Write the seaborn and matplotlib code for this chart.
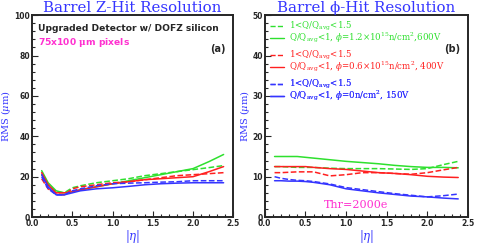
""" Barrel hit resolution vs |eta|, two panels. """
import numpy as np
import pandas as pd
import seaborn as sns
import matplotlib.pyplot as plt
from matplotlib.lines import Line2D
from matplotlib.ticker import MultipleLocator

sns.set_style("ticks")
plt.rcParams['font.family'] = ['DejaVu Sans']
plt.rcParams['mathtext.fontset'] = 'dejavuserif'

# |eta| sample points
eta = [0.12, 0.2, 0.3, 0.4, 0.5, 0.6, 0.8, 1.0, 1.2, 1.4, 1.6, 1.8, 2.0, 2.2, 2.38]

# panel (a): z resolution (um)
z_green_solid = [23, 17, 13, 12, 12.5, 13.5, 15, 16.5, 18, 19.5, 21, 22.5, 24, 27.5, 31]
z_green_dash = [21, 16, 12.5, 12, 14.5, 15.5, 17, 18, 19, 20.5, 21.5, 22.5, 23.5, 24.5, 25.5]
z_red_solid = [22, 16, 12, 12, 12.5, 13.5, 15, 16.5, 17.5, 18.5, 19, 19.5, 20, 22.5, 25]
z_red_dash = [19, 14, 11.5, 11, 14, 15, 16, 17, 17.5, 18.5, 19.5, 20.5, 21, 21.5, 22]
z_blue_solid = [21, 15, 11, 11, 12, 13, 14, 14.5, 15.2, 16, 16.5, 16.8, 17, 17, 17]
z_blue_dash = [20, 14, 11, 11, 13, 14, 15.5, 16.5, 16.8, 17, 17.3, 17.5, 18, 18, 18]

# panel (b): phi resolution (um)
p_green_solid = [15, 15, 15, 15, 14.8, 14.6, 14.2, 13.8, 13.5, 13.2, 12.8, 12.5, 12.3, 12.3, 12.2]
p_green_dash = [12.5, 12.5, 12.4, 12.3, 12.3, 12.3, 12.1, 12, 12, 12, 11.9, 11.8, 12, 13, 13.8]
p_red_solid = [12.5, 12.5, 12.5, 12.5, 12.5, 12.3, 12, 11.8, 11.4, 11, 10.8, 10.5, 10.1, 9.9, 9.8]
p_red_dash = [11, 11, 11.1, 11.2, 11.2, 11.2, 10.2, 10.5, 11, 11, 10.8, 10.6, 11, 11.7, 12.3]
p_blue_solid = [9, 9, 8.9, 8.9, 8.8, 8.6, 8, 7, 6.5, 6, 5.6, 5.2, 5, 4.7, 4.5]
p_blue_dash = [10, 9.6, 9.3, 9.1, 9, 8.8, 8.2, 7.3, 6.8, 6.3, 5.8, 5.4, 5, 5.3, 5.7]

green, red, blue = '#2ee02e', '#ff2020', '#3535ff'
magenta = '#ff30d0'
series_a = [("g-", z_green_solid, green, '-'), ("g--", z_green_dash, green, '--'),
            ("r-", z_red_solid, red, '-'), ("r--", z_red_dash, red, '--'),
            ("b-", z_blue_solid, blue, '-'), ("b--", z_blue_dash, blue, '--')]
series_b = [("g-", p_green_solid, green, '-'), ("g--", p_green_dash, green, '--'),
            ("r-", p_red_solid, red, '-'), ("r--", p_red_dash, red, '--'),
            ("b-", p_blue_solid, blue, '-'), ("b--", p_blue_dash, blue, '--')]

fig = plt.figure(figsize=(4.78, 2.45), dpi=100)
ax_a = fig.add_axes([0.067, 0.114, 0.421, 0.824])
ax_b = fig.add_axes([0.554, 0.114, 0.425, 0.824])


def draw_panel(ax, series, ymax, ymajor, yminor, title):
    for name, vals, col, ls in series:
        df = pd.DataFrame({"eta": eta, "rms": vals})
        sns.lineplot(x="eta", y="rms", data=df, ax=ax, color=col, linestyle=ls, lw=1.1)
    ax.set_xlim(0, 2.5)
    ax.set_ylim(0, ymax)
    ax.xaxis.set_major_locator(MultipleLocator(0.5))
    ax.xaxis.set_minor_locator(MultipleLocator(0.1))
    ax.yaxis.set_major_locator(MultipleLocator(ymajor))
    ax.yaxis.set_minor_locator(MultipleLocator(yminor))
    ax.tick_params(which='both', direction='in', labelsize=5.5, pad=1.5, width=0.8)
    ax.tick_params(which='major', length=4)
    ax.tick_params(which='minor', length=2)
    for lab in ax.get_xticklabels() + ax.get_yticklabels():
        lab.set_fontweight('bold')
    ax.xaxis.set_major_formatter(plt.FuncFormatter(lambda v, p: f"{v:.1f}"))
    for s in ax.spines.values():
        s.set_linewidth(1.4)
    ax.set_xlabel(r'$|\eta|$', color=blue, fontsize=8.5, labelpad=0)
    ax.set_ylabel(r'RMS ($\mu$m)', color=blue, fontsize=7, family='DejaVu Serif', labelpad=0.5)
    ax.set_title(title, color=blue, fontsize=10.8, family='DejaVu Serif', pad=-1.8)


draw_panel(ax_a, series_a, 100, 20, 4, "Barrel Z-Hit Resolution")
draw_panel(ax_b, series_b, 50, 10, 2, "Barrel \u03d5-Hit Resolution")

ax_a.text(0.03, 0.955, "Upgraded Detector w/ DOFZ silicon", transform=ax_a.transAxes,
          fontsize=6.6, fontweight='bold', va='top')
ax_a.text(0.03, 0.895, r"75x100 $\mathbf{\mu}$m pixels", transform=ax_a.transAxes,
          fontsize=6.6, fontweight='bold', color=magenta, va='top')
ax_a.text(0.96, 0.855, "(a)", transform=ax_a.transAxes, fontsize=7, fontweight='bold',
          ha='right', va='top')
ax_b.text(0.96, 0.855, "(b)", transform=ax_b.transAxes, fontsize=7, fontweight='bold',
          ha='right', va='top')
ax_b.text(0.45, 0.06, "Thr=2000e", transform=ax_b.transAxes, fontsize=8,
          family='DejaVu Serif', color=magenta, ha='center', va='center')

groups = [(green, r"Q/Q$_{\rm avg}$<1, $\phi$=1.2$\times$10$^{15}$n/cm$^2$,600V", 1.0),
          (red, r"Q/Q$_{\rm avg}$<1, $\phi$=0.6$\times$10$^{15}$n/cm$^2$, 400V", 0.857),
          (blue, r"Q/Q$_{\rm avg}$<1, $\phi$=0n/cm$^2$, 150V", 0.714)]
for col, lab, ypos in groups:
    handles = [Line2D([], [], color=col, ls='--', lw=1.0),
               Line2D([], [], color=col, ls='-', lw=1.0)]
    leg = ax_b.legend(handles, [r"1<Q/Q$_{\rm avg}$<1.5", lab], loc='upper left',
                      bbox_to_anchor=(0.0, ypos), frameon=False, handlelength=1.6,
                      handletextpad=0.6, labelspacing=-0.3, borderaxespad=0.2,
                      prop={'family': 'DejaVu Serif', 'size': 6.2}, labelcolor=col)
    ax_b.add_artist(leg)

fig.savefig("out.png", dpi=100)
